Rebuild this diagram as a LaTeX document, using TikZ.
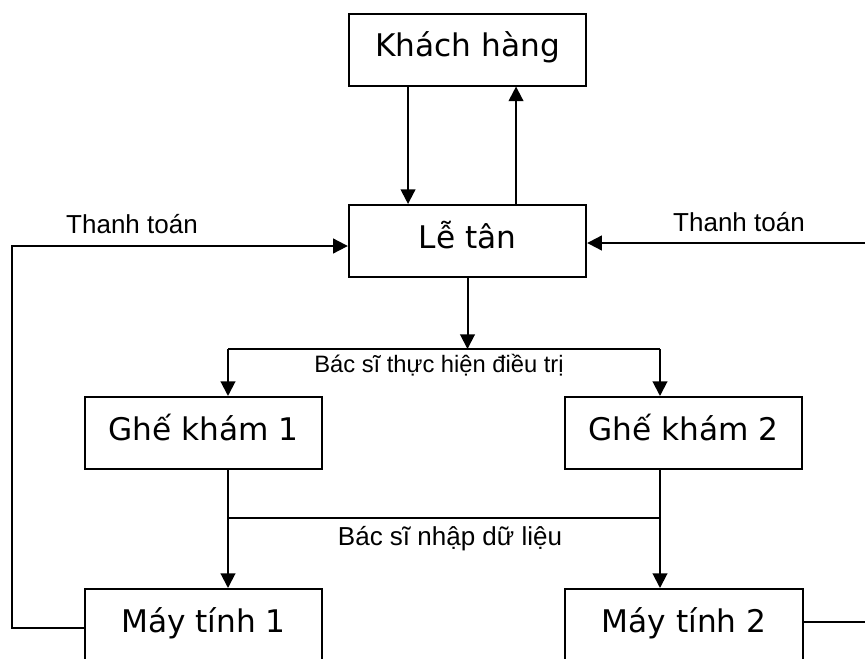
\documentclass[tikz,border=0pt]{standalone}
\usepackage{fontspec}
\setmainfont{DejaVu Sans}
\newfontfamily\labelfont{Liberation Sans}
\usetikzlibrary{arrows.meta}
\begin{document}
\begin{tikzpicture}[x=0.75pt,y=-0.75pt,
  box/.style={draw,line width=1.5pt,minimum width=178pt,inner xsep=0pt,inner ysep=0pt,
    text height=32.25pt,text depth=21.75pt,font=\fontsize{23.4pt}{28pt}\selectfont},
  lbl/.style={anchor=base,inner sep=0pt,font=\labelfont\fontsize{19.5pt}{23pt}\selectfont},
  conn/.style={line width=1.5pt},
  arr/.style={conn,-{Triangle[length=11pt,width=11pt]}}]
\useasboundingbox (0,0) rectangle (865,658);
\clip (0,0) rectangle (865,658);
\fill[white] (0,0) rectangle (865,658);
% boxes
\node[box] (kh) at (467.5,49.5) {Khách hàng};
\node[box] (lt) at (467.5,241) {Lễ tân};
\node[box] (g1) at (203.5,433) {Ghế khám 1};
\node[box] (g2) at (683.5,433) {Ghế khám 2};
\node[box] (m1) at (203.5,625) {Máy tính 1};
\node[box] (m2) at (684,625) {Máy tính 2};
% Khach hang <-> Le tan
\draw[arr] ([xshift=-44.6pt]kh.south) -- ([xshift=-44.6pt]lt.north);
\draw[arr] ([xshift=36.4pt]lt.north) -- ([xshift=36.4pt]kh.south);
% Le tan -> Ghe kham
\coordinate (split) at (467.5,349);
\coordinate (b1) at (228,349);
\coordinate (b2) at (660,349);
\draw[arr] (lt.south) -- (split);
\draw[conn] (b1) -- (b2);
\draw[arr] (b1) -- (b1 |- g1.north);
\draw[arr] (b2) -- (b2 |- g2.north);
% Ghe kham -> May tinh
\coordinate (c1) at (228,518);
\coordinate (c2) at (660,518);
\draw[arr] (c1 |- g1.south) -- (c1 |- m1.north);
\draw[arr] (c2 |- g2.south) -- (c2 |- m2.north);
\draw[conn] (c1) -- (c2);
% Thanh toan loops
\coordinate (lcorner) at (12,246);
\coordinate (rcorner) at (868,243);
\draw[arr] ([yshift=-2.25pt]m1.west) -| (lcorner) -- ([yshift=-3.75pt]lt.west);
\draw[arr] ([yshift=2.25pt]m2.east) -| (rcorner) -- ([yshift=-1.5pt]lt.east);
% labels
\node[lbl] (t1) at (132,233) {Thanh toán};
\node[lbl] (t2) at (739,231) {Thanh toán};
\node[lbl,font=\labelfont\fontsize{17.8pt}{21pt}\selectfont] (d1) at (439,372) {Bác sĩ thực hiện điều trị};
\node[lbl] (d2) at (450,545) {Bác sĩ nhập dữ liệu};
\end{tikzpicture}
\end{document}
